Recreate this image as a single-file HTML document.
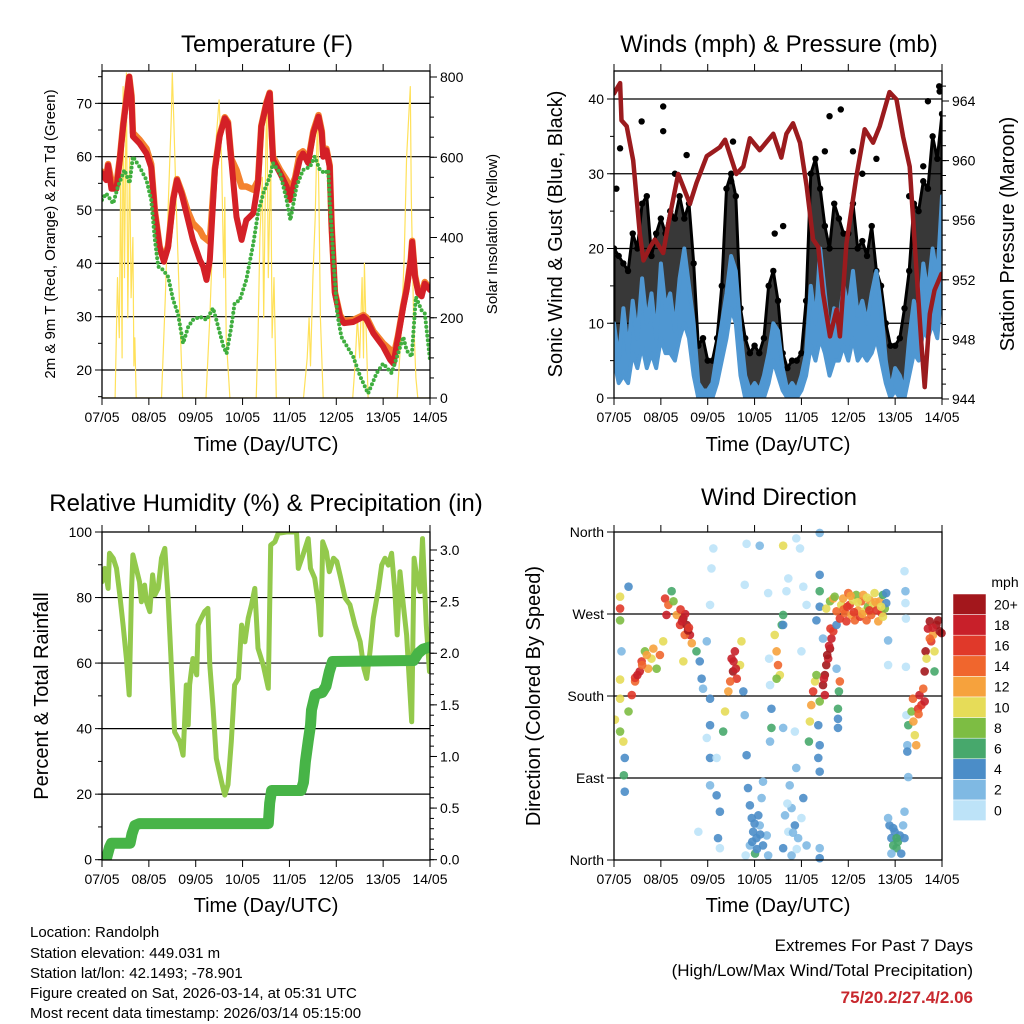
<!DOCTYPE html>
<html><head><meta charset="utf-8"><title>Station Meteogram</title>
<style>
html,body{margin:0;padding:0;background:#fff;}
svg{display:block;font-family:"Liberation Sans",Arial,sans-serif;}
</style></head>
<body>
<svg id="root" xmlns="http://www.w3.org/2000/svg" width="1024" height="1024" viewBox="0 0 1024 1024">
<rect x="0" y="0" width="1024" height="1024" fill="#fff"/>
<defs>
<clipPath id="cpT"><rect x="102" y="71" width="328" height="327"/></clipPath>
<clipPath id="cpW"><rect x="614" y="71" width="328" height="327"/></clipPath>
<clipPath id="cpR"><rect x="102" y="532" width="328" height="328"/></clipPath>
<clipPath id="cpD"><rect x="614" y="528" width="332" height="336"/></clipPath>
</defs>
<g font-size="24" text-anchor="middle" fill="#000">
<text x="267" y="52">Temperature (F)</text>
<text x="779" y="52">Winds (mph) &amp; Pressure (mb)</text>
<text x="266" y="511">Relative Humidity (%) &amp; Precipitation (in)</text>
<text x="779" y="505">Wind Direction</text>
</g>
<g font-size="20" text-anchor="middle">
<text x="266" y="458" transform="translate(0,-7)">Time (Day/UTC)</text>
<text x="778" y="458" transform="translate(0,-7)">Time (Day/UTC)</text>
<text x="266" y="912">Time (Day/UTC)</text>
<text x="778" y="912">Time (Day/UTC)</text>
<text transform="translate(55,234) rotate(-90)" font-size="15">2m &amp; 9m T (Red, Orange) &amp; 2m Td (Green)</text>
<text transform="translate(497,234) rotate(-90)" font-size="15">Solar Insolation (Yellow)</text>
<text transform="translate(562,234) rotate(-90)">Sonic Wind &amp; Gust (Blue, Black)</text>
<text transform="translate(1014,234) rotate(-90)">Station Pressure (Maroon)</text>
<text transform="translate(48,696) rotate(-90)">Percent &amp; Total Rainfall</text>
<text transform="translate(540,696) rotate(-90)">Direction (Colored By Speed)</text>
</g>
<g font-size="15">
<text x="30" y="937">Location: Randolph</text>
<text x="30" y="958">Station elevation: 449.031 m</text>
<text x="30" y="978">Station lat/lon: 42.1493; -78.901</text>
<text x="30" y="998">Figure created on Sat, 2026-03-14, at 05:31 UTC</text>
<text x="30" y="1018">Most recent data timestamp: 2026/03/14 05:15:00</text>
</g>
<g font-size="17" text-anchor="end">
<text x="973" y="951">Extremes For Past 7 Days</text>
<text x="973" y="976">(High/Low/Max Wind/Total Precipitation)</text>
<text x="973" y="1003" font-weight="bold" fill="#c8282e">75/20.2/27.4/2.06</text>
</g>
<text x="1005" y="587" font-size="14" text-anchor="middle">mph</text>
<g id="layer"></g>
</svg>
<script>
// ---------- data ----------
const dayLabels = ["07/05","08/05","09/05","10/05","11/05","12/05","13/05","14/05"];
// Temperature (F)
const tDays = [0,0.09,0.13,0.2,0.31,0.38,0.45,0.52,0.58,0.63,0.66,0.8,0.95,1.05,1.13,1.23,1.32,1.41,1.52,1.6,1.7,1.82,1.94,2.09,2.16,2.23,2.3,2.41,2.51,2.62,2.69,2.76,2.87,2.98,3.08,3.23,3.33,3.4,3.51,3.58,3.65,3.8,3.94,4.01,4.12,4.22,4.29,4.4,4.51,4.62,4.69,4.72,4.79,4.86,4.9,4.97,5.08,5.16,5.36,5.58,5.65,5.79,6.0,6.15,6.22,6.32,6.43,6.5,6.59,6.62,6.68,6.75,6.82,6.89,7.0];
const temp2m = [56.9,55.6,58.4,54,54,59.4,65.6,70.6,75,71,63.8,62.5,60.6,58,49.4,43,40.3,43,51.9,55.6,53,48.7,44.4,40.6,39.4,36.9,40.6,57.5,63.8,67.2,66.2,59.4,48.7,44.4,48.1,49.4,55,65.6,70,71.9,59.4,56.9,54.4,51.9,55.6,59.4,60.6,58.8,64.4,67.5,64.4,60,61.2,58.1,46.9,34.4,30,28.8,29,30,29.4,26.9,24.4,21.9,21.2,26.2,31.9,35,40.6,44,37.5,34.4,33.8,36.2,35];
const temp9m = [57.2,56,58.6,55.5,55,59.6,66,71,75,71.5,64.5,63.2,61.5,58.6,49.8,43.2,40.6,43.3,52.2,55.8,53.4,50,47.5,46.2,45,44.5,44,57.8,64,67.4,66.5,59.6,57.5,54.4,54.4,53.8,55.5,65.8,70.2,72,60,57.5,55.6,53.8,56,60.6,61,59.2,64.8,67.8,64.8,60.4,61.5,58.4,47.2,34.6,30.3,29.2,29.4,30.3,29.8,27.3,25,23.8,22.5,26.5,32.2,35.3,40.8,44.2,37.8,34.8,34.2,36.5,35.3];
const tdDays = [0,0.09,0.24,0.34,0.48,0.59,0.66,0.8,0.95,1.05,1.13,1.2,1.3,1.41,1.52,1.62,1.73,1.84,1.94,2.09,2.23,2.37,2.48,2.59,2.66,2.76,2.83,2.94,3.08,3.23,3.33,3.44,3.58,3.65,3.8,3.94,4.02,4.15,4.29,4.44,4.54,4.65,4.76,4.83,4.86,4.94,5.02,5.11,5.36,5.51,5.68,5.86,6.0,6.18,6.32,6.43,6.5,6.61,6.7,6.82,6.89,7.0];
const dewpoint = [51.9,53.1,51.2,54.4,57.5,55,60,58.1,55.6,51.9,44.4,39.4,38.8,37.5,33.1,30.6,25,28.1,29.4,30,29.4,31.6,28.1,24.4,23.1,28.1,32.5,33.1,36.9,43.7,49.4,53.1,56.2,58.8,56.9,51.9,48.1,54.4,57.5,58.1,60,57.5,56.9,57.5,51.9,40.6,30.6,26.2,22.5,18.8,15.6,19.4,21.2,19.4,23.1,26.2,23.7,22.5,33.7,31.2,30.6,21.9];
const solarDays = [0,0.28,0.33,0.37,0.4,0.43,0.45,0.48,0.52,0.55,0.59,0.62,0.66,0.68,0.7,0.73,1.27,1.35,1.42,1.48,1.5,1.53,1.58,1.65,1.72,2.22,2.3,2.38,2.44,2.5,2.55,2.6,2.62,2.65,2.73,3.29,3.33,3.37,3.42,3.45,3.5,3.52,3.55,3.6,3.63,3.67,3.72,4.3,4.38,4.42,4.45,4.5,4.55,4.6,4.63,4.66,4.72,5.35,5.4,5.45,5.5,5.55,5.58,5.6,5.63,5.68,6.3,6.38,6.45,6.5,6.58,6.6,6.65,6.7,6.74,7.0];
const solar = [0,0,300,150,550,100,776,300,810,200,600,250,400,80,150,0,0,250,500,700,810,700,500,250,0,0,200,450,650,743,600,300,500,150,0,0,150,400,550,200,650,760,300,600,150,300,0,0,100,200,80,300,450,710,500,200,0,0,80,200,100,300,100,336,200,0,0,150,350,600,776,500,200,50,0,0];
// Winds (mph) at 0.1-day steps
const sonicHi = [10,5,12,6,13,8,16,10,14,8,18,12,14,9,16,20,15,10,2,1,1,2,6,10,14,19,17,9,3,1,2,1,3,6,10,9,4,1,2,1,3,6,15,10,20,14,8,12,10,15,12,17,11,13,10,14,17,12,5,1,4,3,1,8,13,10,18,14,20,16,27];
const sonicLo = [5,2,3,2,6,4,7,4,6,4,8,6,6,5,8,10,8,3,0,0,0,0,2,5,8,12,10,3,0,0,0,0,0,2,5,3,1,0,0,0,1,3,7,5,8,6,3,5,5,7,5,8,5,6,5,6,8,5,2,0,1,0,0,3,6,5,9,8,10,8,15];
const gustHi = [20,19,18,17,22,20,26,27,19,22,24,22,25,24,27,24,26,18,7,8,5,5,8,15,28,30,27,12,8,6,7,6,8,15,17,13,6,4,5,5,6,13,30,32,28,23,20,26,24,22,22,26,20,21,19,23,17,15,10,7,7,8,12,17,26,25,29,28,35,32,38];
const gustPeakDays = [0.13,0.59,1.05,1.05,1.55,2.54,3.43,3.61,4.6,4.84,5.1,5.6,6.7,6.94,6.95,6.6,0.05,1.3,2.5,4.5,5.3,6.3];
const gustPeaks = [33.4,37,39,35.7,32.5,34.3,22,23,37.7,38.6,33,32,39.7,41.7,41,31,28,30,29,33,30,27];
const presDays = [0,0.13,0.16,0.27,0.41,0.55,0.63,0.77,0.87,1.05,1.16,1.37,1.62,1.76,1.98,2.26,2.37,2.61,2.76,2.9,3.11,3.4,3.57,3.68,3.82,3.97,4.11,4.25,4.36,4.46,4.61,4.75,4.82,4.96,5.17,5.35,5.53,5.67,5.88,6.03,6.17,6.31,6.45,6.56,6.63,6.74,6.84,6.99];
const pressure = [964.5,965.2,962.7,962.3,960.0,955.1,953.3,954.2,954.7,953.8,955.8,959.1,957.1,958.5,960.3,960.9,961.4,959.1,959.6,961.5,960.7,961.8,960.2,961.8,962.5,961.2,958.3,954.7,954.2,951.1,948.2,950,948.2,954.4,958.9,962.1,961.2,962.3,964.6,964.1,961.6,959.6,952.9,947.7,944.8,949.7,951.3,952.4];
// Relative humidity & precipitation
const rhDays = [0,0.06,0.13,0.16,0.24,0.31,0.38,0.45,0.52,0.58,0.63,0.66,0.73,0.8,0.84,0.91,0.95,1.02,1.08,1.13,1.2,1.27,1.34,1.41,1.48,1.55,1.66,1.73,1.8,1.84,1.87,1.94,2.02,2.05,2.12,2.19,2.26,2.3,2.37,2.44,2.55,2.62,2.69,2.76,2.83,2.91,2.98,3.05,3.12,3.19,3.26,3.33,3.44,3.55,3.6,3.69,3.76,3.94,4.15,4.19,4.29,4.4,4.45,4.54,4.62,4.67,4.71,4.79,4.85,4.94,5.01,5.08,5.19,5.29,5.4,5.51,5.59,5.65,5.72,5.79,5.9,5.97,6.04,6.11,6.18,6.25,6.3,6.36,6.43,6.5,6.61,6.66,6.72,6.79,6.84,6.92,6.99];
const rh = [84.8,88.9,82.8,93.5,92,88.9,80.8,71.6,61.4,50.3,81.8,93,88.9,84.8,78.7,83.8,78.7,75.7,86.9,80.8,82.8,92,95,79.8,59.4,39,36,31.9,53.3,41.1,53.3,61.4,56.4,71.6,73.7,75.7,76.7,59.4,46.2,30.9,23.8,19.7,22.9,36,53.3,55.3,71.6,66.5,73.7,77.8,82.8,64.5,59.4,52.3,96,97,99.6,100,100,88.9,93,98,88.9,85.9,77.8,68.6,97,94,87.9,92,91,86.9,79.8,77.8,71.6,66.5,58.4,55.3,63.5,73.7,82.8,89.9,92,89.9,93.5,81.8,68.6,87.9,77.8,68.6,42.1,92,85.9,81.8,98,71.6,57.4];
const precipDays = [0,0.1,0.16,0.2,0.6,0.64,0.7,0.8,3.55,3.58,3.62,4.25,4.3,4.34,4.4,4.45,4.47,4.55,4.7,4.78,4.85,4.92,6.65,6.75,6.85,7.0];
const precip = [0,0.02,0.12,0.16,0.16,0.25,0.33,0.35,0.35,0.55,0.67,0.67,0.75,0.95,1.15,1.3,1.45,1.6,1.62,1.68,1.82,1.92,1.93,2.0,2.04,2.06];
// Wind direction (deg) colored by speed (mph)
const dirDays = [0.02,0.13,0.2,0.23,0.21,0.23,0.31,0.13,0.13,0.13,0.13,0.31,0.13,0.16,0.38,0.45,0.55,0.59,0.66,0.73,0.8,0.84,0.91,0.98,1.05,1.09,1.12,1.16,1.23,1.27,1.34,1.41,1.48,1.55,1.62,1.51,1.66,1.48,1.76,1.83,1.87,1.9,1.98,2.05,2.08,2.12,2.05,2.05,1.98,2.05,2.05,2.19,2.26,2.22,2.26,2.19,1.8,0.45,0.5,0.6,0.7,1.45,1.58,1.52,1.42,1.6,
 2.33,2.37,2.44,2.51,2.58,2.54,2.62,2.69,2.72,2.76,2.79,2.83,2.83,2.79,2.55,2.6,2.48,
 2.86,2.9,2.94,2.97,3.04,3.11,3.18,3.26,2.9,3.08,3.15,3.18,3.29,2.81,3.01,3.11,3.61,3.29,3.31,3.33,3.36,3.36,3.33,3.0,3.05,3.12,2.95,
 3.43,3.47,3.5,3.54,3.58,3.47,3.61,3.61,
 3.65,3.72,3.79,3.86,3.93,4.0,3.75,3.89,4.04,4.11,3.61,3.79,3.86,3.61,3.72,3.89,3.97,4.04,4.11,4.0,3.68,3.82,3.9,3.7,
 4.18,4.21,4.25,4.29,4.32,4.16,4.39,4.36,4.39,4.36,4.39,4.39,4.39,4.39,4.32,4.39,4.39,4.39,
 4.5,4.53,4.57,4.61,4.64,4.62,4.68,4.46,4.5,4.53,4.61,4.68,4.75,4.46,4.75,4.82,4.8,4.78,4.78,4.78,4.55,4.59,4.48,
 4.71,4.75,4.82,4.85,4.89,4.93,4.96,5.0,5.03,5.07,5.1,5.14,5.17,5.21,5.25,5.28,5.32,5.35,5.39,5.42,5.46,5.49,5.53,5.56,5.6,5.64,5.67,5.71,5.74,5.78,5.81,5.81,5.85,5.85,5.74,4.9,5.05,5.12,5.3,5.45,5.58,5.7,4.98,5.2,5.4,
 5.88,5.92,5.96,5.99,6.03,6.06,6.1,6.17,6.2,6.13,5.92,5.85,6.2,5.96,6.03,
 6.2,6.22,6.22,6.23,6.23,6.24,6.26,6.26,6.28,6.28,6.35,6.38,6.39,6.42,6.45,6.49,6.52,6.56,6.6,6.63,6.63,6.65,6.67,6.7,6.74,6.77,6.81,6.84,6.84,6.92,6.95,6.99,6.74,6.88,6.8,6.5];
const dirDeg = [154,141,130,112,93,75,163,177,263,276,289,300,198,229,181,196,207,218,229,210,221,232,210,225,240,287,269,280,295,284,269,258,265,258,247,247,238,218,229,218,199,188,240,280,320,342,177,148,134,112,82,71,53,24,13,112,31,200,203,214,225,262,252,270,275,255,
 141,163,185,221,229,207,199,214,240,185,159,115,347,302,218,210,196,
 79,60,46,31,24,38,16,27,16,49,68,86,5,5,7,345,345,293,221,192,166,145,130,40,12,28,20,
 247,229,214,203,258,199,269,258,
 49,31,57,38,24,46,82,101,68,16,13,5,141,145,309,353,342,300,280,229,295,30,12,62,
 152,170,185,196,203,130,174,148,126,112,97,313,295,278,263,359,2,13,
 203,214,221,232,243,254,251,192,181,276,284,287,258,243,210,196,185,166,155,145,225,235,199,
 289,273,265,280,287,271,262,293,280,269,285,263,291,274,267,284,291,273,263,278,285,269,280,293,274,262,284,271,291,276,282,293,241,214,267,275,290,272,270,274,283,278,278,283,288,
 38,24,16,31,13,20,27,38,24,7,7,46,53,35,24,
 317,295,282,265,212,159,126,119,91,148,163,177,152,137,126,166,181,170,188,174,207,229,221,254,262,240,247,229,207,263,251,249,243,258,255,160];
const dirSpd = [10,8,10,4,6,4,8,10,8,16,10,4,10,2,16,14,18,16,8,12,10,12,8,14,10,16,18,14,6,8,12,16,20,20,18,14,12,10,6,4,4,2,2,0,0,0,4,4,0,4,2,4,4,4,0,0,0,16,18,14,12,18,20,18,16,16,
 6,10,12,18,18,20,16,10,10,4,2,4,0,0,18,18,14,
 4,4,4,4,4,2,4,2,2,4,2,2,2,0,6,2,10,0,0,0,4,6,2,4,4,4,4,
 10,12,14,10,6,8,6,4,
 2,0,2,4,2,0,2,2,4,2,4,2,0,2,0,0,0,0,0,0,0,2,0,0,
 10,12,16,10,8,6,8,4,4,4,4,4,6,4,4,2,4,2,
 20,20,18,20,18,16,16,20,18,10,8,12,4,2,2,14,6,6,4,4,20,18,18,
 8,14,16,10,12,14,16,14,16,12,10,14,8,12,16,14,12,10,14,8,12,14,10,10,16,12,12,16,6,8,4,4,2,0,10,14,12,16,12,16,12,10,16,10,10,
 4,4,6,4,6,6,4,2,4,4,2,2,2,4,6,
 0,2,0,0,0,0,2,4,2,6,8,14,12,10,12,16,18,16,14,18,20,20,10,18,20,16,12,10,6,20,20,20,14,20,18,14];
const cbLabels = ["20+","18","16","14","12","10","8","6","4","2","0"];
const cbColors = ["#a3171c","#c8202a","#e0392a","#f0662d","#f6a23d","#e6dc58","#7dbd43","#47a86c","#4b8dc8","#7fb9e3","#bde3f8"];

// ---------- helpers ----------
const NS = "http://www.w3.org/2000/svg";
const layer = document.getElementById("layer");
function mk(tag, attrs, parent) {
  const e = document.createElementNS(NS, tag);
  for (const k in attrs) e.setAttribute(k, attrs[k]);
  (parent || layer).appendChild(e);
  return e;
}
function group(name, clip) {
  const g = mk("g", clip ? {"clip-path": "url(#" + clip + ")"} : {});
  
  
  return g;
}
const P = {
  T: {x0:102, x1:430, y0:71, y1:398},
  W: {x0:614, x1:942, y0:71, y1:398},
  R: {x0:102, x1:430, y0:532, y1:860},
  D: {x0:614, x1:942, y0:532, y1:860}
};
function xs(p, d) { return p.x0 + d * (p.x1 - p.x0) / 7; }
const yTemp = t => 370 - (t - 20) * 5.333;
const ySolar = w => 398 - w * 321 / 800;
const yWind = v => 398 - v * 7.475;
const yPres = p => 101 + (964 - p) * 14.9;
const yRH = r => 859.7 - r * 3.277;
const yPrecip = v => 859.7 - v * 103.23;
const yDir = d => 860 - d * 328 / 360;
function pathFrom(p, days, vals, yf) {
  return days.map((d, i) => (i ? "L" : "M") + xs(p, d).toFixed(1) + " " + yf(vals[i]).toFixed(1)).join(" ");
}
function line(g, name, d, color, w, extra) {
  const e = mk("path", Object.assign({d: d, fill: "none", stroke: color, "stroke-width": w, "stroke-linejoin": "round", "stroke-linecap": "round"}, extra || {}), g);
  
  
  return e;
}

// ---------- frames, grids, ticks ----------
function frame(key, name, leftTicks, leftMinor, yl, leftLabels, rightTicks, rightMinor, yr, rightLabels, grid) {
  const p = P[key];
  const g = group(name + "-axes");
  grid.forEach(v => {
    const y = yl(v);
    const e = mk("line", {x1: p.x0, x2: p.x1, y1: y, y2: y, stroke: "#000", "stroke-width": 1.2}, g);
    
    
  });
  for (let i = 0; i < 8; i++) {
    const x = xs(p, i);
    const t1 = mk("line", {x1: x, x2: x, y1: p.y1, y2: p.y1 + 7, stroke: "#000", "stroke-width": 1}, g);
    
    
    const t2 = mk("line", {x1: x, x2: x, y1: p.y0, y2: p.y0 - 7, stroke: "#000", "stroke-width": 1}, g);
    
    
    const lb = mk("text", {x: x, y: p.y1 + 24, "font-size": 14, "text-anchor": "middle"}, g);
    lb.textContent = dayLabels[i];
    
    
  }
  leftMinor.forEach(v => {
    const y = yl(v);
    const e = mk("line", {x1: p.x0, x2: p.x0 - 4, y1: y, y2: y, stroke: "#000", "stroke-width": 1}, g);
    
    
  });
  leftTicks.forEach((v, i) => {
    const y = yl(v);
    const e = mk("line", {x1: p.x0, x2: p.x0 - 7, y1: y, y2: y, stroke: "#000", "stroke-width": 1}, g);
    
    
    const lb = mk("text", {x: p.x0 - 10, y: y + 5, "font-size": 14, "text-anchor": "end"}, g);
    lb.textContent = leftLabels[i];
    
    
  });
  rightMinor.forEach(v => {
    const y = yr(v);
    const e = mk("line", {x1: p.x1, x2: p.x1 + 4, y1: y, y2: y, stroke: "#000", "stroke-width": 1}, g);
    
    
  });
  rightTicks.forEach((v, i) => {
    const y = yr(v);
    const e = mk("line", {x1: p.x1, x2: p.x1 + 7, y1: y, y2: y, stroke: "#000", "stroke-width": 1}, g);
    
    
    const lb = mk("text", {x: p.x1 + 10, y: y + 5, "font-size": 14, "text-anchor": "start"}, g);
    lb.textContent = rightLabels[i];
    
    
  });
}
function border(key, name) {
  const p = P[key];
  const e = mk("rect", {x: p.x0, y: p.y0, width: p.x1 - p.x0, height: p.y1 - p.y0, fill: "none", stroke: "#000", "stroke-width": 1.3});
  
  
}
const rng = (a, b, s) => { const r = []; for (let v = a; v <= b + 1e-9; v += s) r.push(+v.toFixed(3)); return r; };

frame("T", "temperature", [20,30,40,50,60,70], rng(15,75,5), yTemp, ["20","30","40","50","60","70"],
      [0,200,400,600,800], rng(0,800,50), ySolar, ["0","200","400","600","800"], [20,30,40,50,60,70]);
frame("W", "winds", [0,10,20,30,40], rng(0,40,5), yWind, ["0","10","20","30","40"],
      [944,948,952,956,960,964], rng(944,965,1), yPres, ["944","948","952","956","960","964"], [10,20,30,40]);
frame("R", "humidity", [0,20,40,60,80,100], rng(0,100,10), yRH, ["0","20","40","60","80","100"],
      [0,0.5,1,1.5,2,2.5,3], rng(0,3,0.1), yPrecip, ["0.0","0.5","1.0","1.5","2.0","2.5","3.0"], [20,40,60,80]);
frame("D", "direction", [0,90,180,270,360], [], yDir, ["North","East","South","West","North"],
      [], [], yDir, [], [90,180,270]);

// ---------- temperature panel ----------
(function(){
  const p = P.T, g = group("temperature-series", "cpT");
  line(g, "solar-insolation-line", pathFrom(p, solarDays, solar, ySolar), "#ffe15a", 1.2);
  line(g, "temp-9m-line", pathFrom(p, tDays, temp9m, yTemp), "#f4822e", 6.5);
  line(g, "temp-2m-line", pathFrom(p, tDays, temp2m, yTemp), "#d42027", 6);
  line(g, "dewpoint-line", pathFrom(p, tdDays, dewpoint, yTemp), "#3fae3f", 4, {"stroke-dasharray": "0 4.5"});
})();
border("T", "temperature");

// ---------- winds panel ----------
(function(){
  const p = P.W, g = group("winds-series", "cpW");
  const days = sonicHi.map((_, i) => i * 0.1);
  let top = days.map((d, i) => (i ? "L" : "M") + xs(p, d).toFixed(1) + " " + yWind(gustHi[i]).toFixed(1)).join(" ");
  let bot = days.slice().reverse().map((d, j) => { const i = days.length - 1 - j; return "L" + xs(p, d).toFixed(1) + " " + yWind(sonicLo[i]).toFixed(1); }).join(" ");
  const ga = mk("path", {d: top + " " + bot + " Z", fill: "#000", "fill-opacity": 0.78, stroke: "#000", "stroke-width": 3, "stroke-linejoin": "round"}, g);
  
  
  gustHi.forEach((v, i) => {
    const c = mk("circle", {cx: xs(p, days[i]), cy: yWind(v), r: 3.2, fill: "#000"}, g);
    
    
  });
  gustPeaks.forEach((v, i) => {
    const c = mk("circle", {cx: xs(p, gustPeakDays[i]), cy: yWind(v), r: 3.2, fill: "#000"}, g);
    
    
  });
  let st = days.map((d, i) => (i ? "L" : "M") + xs(p, d).toFixed(1) + " " + yWind(sonicHi[i]).toFixed(1)).join(" ");
  let sb = days.slice().reverse().map((d, j) => { const i = days.length - 1 - j; return "L" + xs(p, d).toFixed(1) + " " + yWind(sonicLo[i]).toFixed(1); }).join(" ");
  const sa = mk("path", {d: st + " " + sb + " Z", fill: "#4f97d2", stroke: "#4f97d2", "stroke-width": 4, "stroke-linejoin": "round"}, g);
  
  
  line(g, "pressure-line", pathFrom(p, presDays, pressure, yPres), "#9b1b1e", 4.5);
})();
border("W", "winds");

// ---------- humidity panel ----------
(function(){
  const p = P.R, g = group("humidity-series", "cpR");
  line(g, "relative-humidity-line", pathFrom(p, rhDays, rh, yRH), "#93c94c", 5);
  line(g, "precipitation-line", pathFrom(p, precipDays, precip, yPrecip), "#47b447", 11);
})();
border("R", "humidity");

// ---------- wind direction panel ----------
(function(){
  const p = P.D, g = group("direction-points", "cpD");
  dirDays.forEach((d, i) => {
    const b = Math.min(10, Math.floor(dirSpd[i] / 2));
    const c = mk("circle", {cx: xs(p, d), cy: yDir(dirDeg[i]), r: 4.3, fill: cbColors[10 - b], "fill-opacity": 0.9}, g);
    
    
  });
})();
border("D", "direction");

// ---------- colorbar ----------
(function(){
  const g = group("speed-colorbar");
  const top = 594, h = 20.6;
  cbLabels.forEach((lab, i) => {
    const r = mk("rect", {x: 953, y: top + i * h, width: 33, height: h, fill: cbColors[i], stroke: "#fff", "stroke-width": 0.5}, g);
    
    
    const t = mk("text", {x: 994, y: top + i * h + h / 2 + 5, "font-size": 14}, g);
    t.textContent = lab;
    
    
  });
})();
</script>
</body></html>
